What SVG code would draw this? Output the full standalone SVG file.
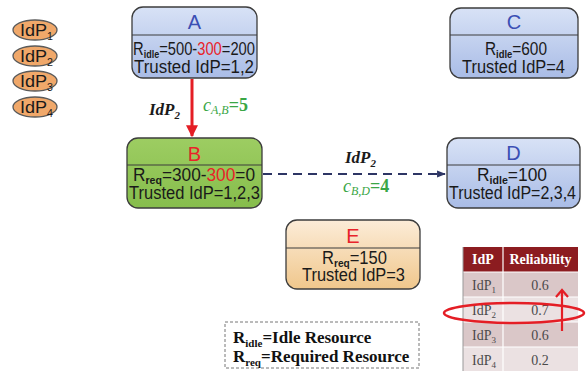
<svg xmlns="http://www.w3.org/2000/svg" width="587" height="371" viewBox="0 0 587 371">
<style>
.box{stroke:#3c3c3c;stroke-width:1.3}
.div{stroke:#3c3c3c;stroke-width:1.2}
.bt{font-family:"Liberation Sans",Arial,sans-serif;font-size:18px;fill:#1a1a1a}
.sub{font-size:11px;font-weight:bold}
.ttl{font-family:"Liberation Sans",Arial,sans-serif;font-size:20px;text-anchor:middle}
.blue{fill:#3b4fb4}
.red{fill:#e8232a}
.idp{fill:#f0a86a;stroke:#5a5a5a;stroke-width:1.3}
.it{font-family:"Liberation Sans",Arial,sans-serif;font-size:17px;fill:#1a1a1a}
.lab{font-family:"Liberation Serif","Times New Roman",serif;font-weight:bold;font-style:italic;font-size:17px;fill:#1a1a1a}
.cost{font-family:"Liberation Serif","Times New Roman",serif;font-style:italic;font-size:18px;fill:#3aa646}
.tb{font-family:"Liberation Serif","Times New Roman",serif;font-size:14px;fill:#4a4a4a}
.th{font-family:"Liberation Serif","Times New Roman",serif;font-size:14px;font-weight:bold;fill:#fff}
.leg{font-family:"Liberation Serif","Times New Roman",serif;font-weight:bold;font-size:17px;fill:#111}
</style>
<defs>
<linearGradient id="gBlue" x1="0" y1="0" x2="0" y2="1"><stop offset="0" stop-color="#d8e2f6"/><stop offset="1" stop-color="#a9bce6"/></linearGradient>
<linearGradient id="gGreen" x1="0" y1="0" x2="0" y2="1"><stop offset="0" stop-color="#9dcd62"/><stop offset="1" stop-color="#86bd4c"/></linearGradient>
<linearGradient id="gPeach" x1="0" y1="0" x2="0" y2="1"><stop offset="0" stop-color="#fcecd8"/><stop offset="1" stop-color="#f0c78c"/></linearGradient>
<marker id="mRed" viewBox="0 0 10 10" refX="9" refY="5" markerWidth="4" markerHeight="4" orient="auto"><path d="M0,0 L10,5 L0,10 z" fill="#e41e25"/></marker>
<marker id="mNavy" viewBox="0 0 10 10" refX="9" refY="5" markerWidth="4" markerHeight="4" orient="auto"><path d="M0,1 L10,5 L0,9 z" fill="#2d3564"/></marker>
</defs>

<g id="idp1"><ellipse class="idp" cx="35" cy="30" rx="22" ry="10"/><text class="it" x="20" y="36" textLength="33" lengthAdjust="spacingAndGlyphs">IdP<tspan font-size="10" dy="4">1</tspan></text></g>
<g id="idp2"><ellipse class="idp" cx="35" cy="56" rx="22" ry="10"/><text class="it" x="20" y="62" textLength="33" lengthAdjust="spacingAndGlyphs">IdP<tspan font-size="10" dy="4">2</tspan></text></g>
<g id="idp3"><ellipse class="idp" cx="35" cy="81" rx="22" ry="10"/><text class="it" x="20" y="87" textLength="33" lengthAdjust="spacingAndGlyphs">IdP<tspan font-size="10" dy="4">3</tspan></text></g>
<g id="idp4"><ellipse class="idp" cx="35" cy="107" rx="22" ry="10"/><text class="it" x="20" y="113" textLength="33" lengthAdjust="spacingAndGlyphs">IdP<tspan font-size="10" dy="4">4</tspan></text></g>

<g id="connectors">
<line x1="192" y1="79" x2="192" y2="136" stroke="#e41e25" stroke-width="3" marker-end="url(#mRed)"/>
<text class="lab" x="149" y="115">IdP<tspan font-size="11" dy="4">2</tspan></text>
<text class="cost" x="203" y="111">c<tspan font-size="12" dy="3">A,B</tspan><tspan dy="-3" font-style="normal" font-weight="bold">=5</tspan></text>
<line x1="263" y1="174" x2="445" y2="174" stroke="#2d3564" stroke-width="2.2" stroke-dasharray="9,6" marker-end="url(#mNavy)"/>
<text class="lab" x="345" y="163">IdP<tspan font-size="11" dy="4">2</tspan></text>
<text class="cost" x="343" y="192">c<tspan font-size="12" dy="3">B,D</tspan><tspan dy="-3" font-style="normal" font-weight="bold">=4</tspan></text>
</g>

<g id="A">
<rect class="box" x="132" y="7" width="125" height="71" rx="11" fill="url(#gBlue)"/>
<line class="div" x1="132" y1="35" x2="257" y2="35"/>
<text class="ttl blue" x="194.5" y="29">A</text>
<text class="bt" x="133" y="55" textLength="122" lengthAdjust="spacingAndGlyphs">R<tspan class="sub" dy="3">idle</tspan><tspan dy="-3">=500-</tspan><tspan fill="#e8232a">300</tspan>=200</text>
<text class="bt" x="134" y="73" textLength="120" lengthAdjust="spacingAndGlyphs">Trusted IdP=1,2</text>
</g>

<g id="C">
<rect class="box" x="450" y="8" width="128" height="70" rx="11" fill="url(#gBlue)"/>
<line class="div" x1="450" y1="35" x2="578" y2="35"/>
<text class="ttl blue" x="514" y="29">C</text>
<text class="bt" x="485" y="55" textLength="62" lengthAdjust="spacingAndGlyphs">R<tspan class="sub" dy="3">idle</tspan><tspan dy="-3">=600</tspan></text>
<text class="bt" x="462" y="73" textLength="103" lengthAdjust="spacingAndGlyphs">Trusted IdP=4</text>
</g>

<g id="B">
<rect class="box" x="127" y="138" width="135" height="70" rx="11" fill="url(#gGreen)"/>
<line class="div" x1="127" y1="165" x2="262" y2="165"/>
<text class="ttl red" x="194.5" y="161">B</text>
<text class="bt" x="133" y="181" textLength="122" lengthAdjust="spacingAndGlyphs">R<tspan class="sub" dy="3">req</tspan><tspan dy="-3">=300-</tspan><tspan fill="#e8232a">300</tspan>=0</text>
<text class="bt" x="129" y="199" textLength="131" lengthAdjust="spacingAndGlyphs">Trusted IdP=1,2,3</text>
</g>

<g id="D">
<rect class="box" x="447" y="138" width="133" height="70" rx="11" fill="url(#gBlue)"/>
<line class="div" x1="447" y1="165" x2="580" y2="165"/>
<text class="ttl blue" x="513.5" y="160">D</text>
<text class="bt" x="477" y="181" textLength="70" lengthAdjust="spacingAndGlyphs">R<tspan class="sub" dy="3">idle</tspan><tspan dy="-3">=100</tspan></text>
<text class="bt" x="449" y="199" textLength="127" lengthAdjust="spacingAndGlyphs">Trusted IdP=2,3,4</text>
</g>

<g id="E">
<rect class="box" x="286" y="220" width="134" height="69" rx="11" fill="url(#gPeach)"/>
<line class="div" x1="286" y1="248" x2="420" y2="248"/>
<text class="ttl red" x="353" y="243">E</text>
<text class="bt" x="322" y="264" textLength="65" lengthAdjust="spacingAndGlyphs">R<tspan class="sub" dy="3">req</tspan><tspan dy="-3">=150</tspan></text>
<text class="bt" x="302" y="281" textLength="103" lengthAdjust="spacingAndGlyphs">Trusted IdP=3</text>
</g>

<g id="table">
<rect x="463" y="247" width="115" height="25" fill="#8c1c20"/>
<rect x="463" y="272" width="115" height="25" fill="#dac7c8"/>
<rect x="463" y="297" width="115" height="25" fill="#ebe1e2"/>
<rect x="463" y="322" width="115" height="25" fill="#dac7c8"/>
<rect x="463" y="347" width="115" height="24" fill="#ebe1e2"/>
<g stroke="#fff" stroke-width="1.2">
<line x1="503" y1="247" x2="503" y2="371"/>
<line x1="463" y1="272" x2="578" y2="272"/>
<line x1="463" y1="297" x2="578" y2="297"/>
<line x1="463" y1="322" x2="578" y2="322"/>
<line x1="463" y1="347" x2="578" y2="347"/>
</g>
<line x1="463" y1="247" x2="463" y2="371" stroke="#999" stroke-width="1"/>
<text class="th" x="483" y="264" text-anchor="middle">IdP</text>
<text class="th" x="540.5" y="264" text-anchor="middle">Reliability</text>
<text class="tb" x="472" y="290">IdP<tspan font-size="9" dy="3">1</tspan></text>
<text class="tb" x="540" y="290" text-anchor="middle">0.6</text>
<text class="tb" x="472" y="315">IdP<tspan font-size="9" dy="3">2</tspan></text>
<text class="tb" x="540" y="315" text-anchor="middle">0.7</text>
<text class="tb" x="472" y="340">IdP<tspan font-size="9" dy="3">3</tspan></text>
<text class="tb" x="540" y="340" text-anchor="middle">0.6</text>
<text class="tb" x="472" y="365">IdP<tspan font-size="9" dy="3">4</tspan></text>
<text class="tb" x="540" y="365" text-anchor="middle">0.2</text>
<ellipse cx="514" cy="313" rx="70" ry="10" fill="none" stroke="#e41e25" stroke-width="2.5"/>
<line x1="562" y1="331" x2="562" y2="291" stroke="#e41e25" stroke-width="2.2"/>
<polyline points="556,297 562,290 568,297" fill="none" stroke="#e41e25" stroke-width="2.2" stroke-linejoin="miter"/>
</g>

<g id="legend">
<rect x="225" y="322" width="194" height="46" fill="#fff" stroke="#777" stroke-width="1" stroke-dasharray="3,2"/>
<text class="leg" x="233" y="343">R<tspan font-size="11" dy="4">idle</tspan><tspan dy="-4">=Idle Resource</tspan></text>
<text class="leg" x="233" y="362">R<tspan font-size="11" dy="4">req</tspan><tspan dy="-4">=Required Resource</tspan></text>
</g>
</svg>
